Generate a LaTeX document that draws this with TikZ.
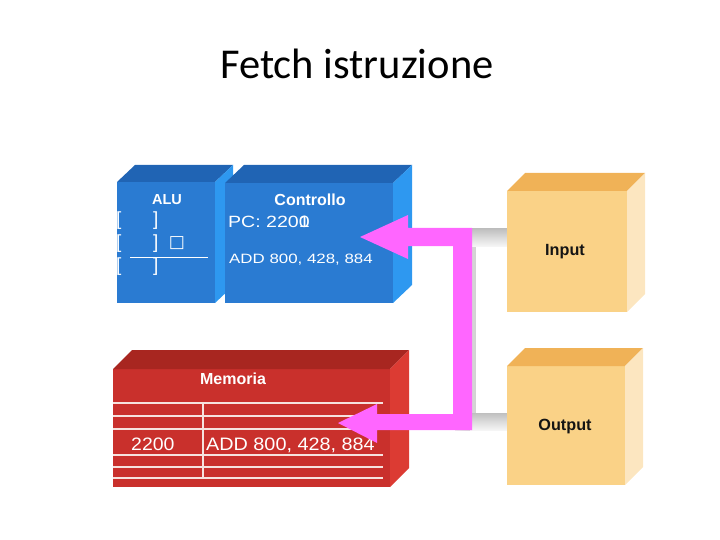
\documentclass[tikz,border=0pt]{standalone}
\usepackage{fontspec}
\setmainfont{Liberation Sans}
\newfontfamily\titlefont{Carlito}
\newfontfamily\symfont{DejaVu Sans}
\usetikzlibrary{calc}
\definecolor{bluefront}{HTML}{2A7BD2}
\definecolor{bluetop}{HTML}{2064B4}
\definecolor{blueside}{HTML}{2E98F0}
\definecolor{redfront}{HTML}{C9302C}
\definecolor{redtop}{HTML}{A82620}
\definecolor{redside}{HTML}{DC3B33}
\definecolor{yelfront}{HTML}{FAD287}
\definecolor{yeltop}{HTML}{F0B257}
\definecolor{yelside}{HTML}{FCE6C0}
\definecolor{pinkarrow}{HTML}{FF66FF}
\definecolor{rowline}{HTML}{F6E2DE}
\newcommand\cubefaces[5]{%
  \fill[#4] (#1.north west) -- ++(#2,-#3) -- ($(#1.north east)+(#2,-#3)$) -- (#1.north east) -- cycle;
  \fill[#5] (#1.north east) -- ++(#2,-#3) -- ($(#1.south east)+(#2,-#3)$) -- (#1.south east) -- cycle;}
\tikzset{
  front/.style={anchor=north west, inner sep=0pt, outer sep=0pt},
  boxlabel/.style={font=\bfseries\fontsize{16}{18}\selectfont, text=white, inner sep=0pt},
  dark/.style={font=\bfseries\fontsize{16.2}{18}\selectfont, text=black!92, inner sep=0pt},
  brk/.style={font=\fontsize{19}{20}\selectfont, text=white, inner sep=0pt, anchor=west},
  greybar/.style={top color=gray!50, bottom color=gray!8, middle color=gray!28},
}
\begin{document}
\begin{tikzpicture}[x=1pt,y=-1pt]
\useasboundingbox (0,0) rectangle (720,540);
% title
\node[font=\titlefont\fontsize{42.5}{46}\selectfont, anchor=base, inner sep=0pt] (title) at (357,79) {Fetch istruzione};

% grey bus bars
\fill[left color=gray!15, right color=gray!35] (455,229) rectangle (475.5,430);
\fill[greybar] (470,229) rectangle (508,246);
\fill[greybar] (470,413) rectangle (508,430);

% ALU
\node[front, fill=bluefront, minimum width=98pt, minimum height=121pt] (alu) at (117,182) {};
\cubefaces{alu}{18}{17}{bluetop}{blueside}
% Controllo
\node[front, fill=bluefront, minimum width=168pt, minimum height=120pt] (ctrl) at (225,183) {};
\cubefaces{ctrl}{19}{18}{bluetop}{blueside}
% Memoria
\node[front, fill=redfront, minimum width=277pt, minimum height=118pt] (mem) at (113,369) {};
\cubefaces{mem}{19}{19}{redtop}{redside}
% Input
\node[front, fill=yelfront, minimum width=120pt, minimum height=121pt] (inp) at (507,191) {};
\cubefaces{inp}{18}{18}{yeltop}{yelside}
% Output
\node[front, fill=yelfront, minimum width=118pt, minimum height=119pt] (outp) at (507,366) {};
\cubefaces{outp}{18}{18}{yeltop}{yelside}

% ALU contents
\node[boxlabel, font=\bfseries\fontsize{14.5}{16}\selectfont] (alulbl) at (167,200) {ALU};
\node[brk] (b1l) at (116,221) {[};
\node[brk] (b1r) at (153,221) {]};
\node[brk] (b2l) at (116,244) {[};
\node[brk] (b2r) at (153,244) {]};
\node[brk] (b3l) at (116,267) {[};
\node[brk] (b3r) at (153,267) {]};
\node[font=\symfont\fontsize{17}{18}\selectfont, text=white, inner sep=0pt] (sq) at (177,243) {□};
\coordinate (l1) at (130,257);
\coordinate (l2) at (208,257);
\draw[white, line width=1pt] (l1) -- (l2);

% Controllo contents
\node[boxlabel] (ctrllbl) at (310,200) {Controllo};
\node[text=white, inner sep=0pt, anchor=base west, font=\fontsize{16.3}{18}\selectfont] (pc) at (228,227) {\scalebox{1.2}[1]{PC: 220\rlap{0}1}};
\node[text=white, inner sep=0pt, anchor=base west, font=\fontsize{13.5}{15}\selectfont] (instr) at (229,263) {\scalebox{1.25}[1]{ADD 800, 428, 884}};

% Memoria contents
\node[boxlabel] (memlbl) at (233,379) {Memoria};
\foreach \yy in {403,416,429,455,467,478}
  \draw[rowline, line width=1.2pt] (113,\yy) -- (383,\yy);
\draw[rowline, line width=1.2pt] (203,403) -- (203,478);
\node[text=white, inner sep=0pt, anchor=base west, font=\fontsize{18}{20}\selectfont] (addr) at (131,450) {\scalebox{1.08}[1]{2200}};
\node[text=white, inner sep=0pt, anchor=base west, font=\fontsize{18}{20}\selectfont] (meminstr) at (206,450) {\scalebox{1.1}[1]{ADD 800, 428, 884}};

% Input / Output labels
\node[dark] (inlbl) at (565,252) {Input};
\node[dark] (outlbl) at (565,427) {Output};

% pink fetch arrow
\fill[pinkarrow] (360,237) -- (408,215) -- (408,228) -- (472,228) -- (472,430)
  -- (377,430) -- (377,443) -- (338,423) -- (377,404) -- (377,414) -- (453,414)
  -- (453,246) -- (408,246) -- (408,259) -- cycle;
\end{tikzpicture}
\end{document}
